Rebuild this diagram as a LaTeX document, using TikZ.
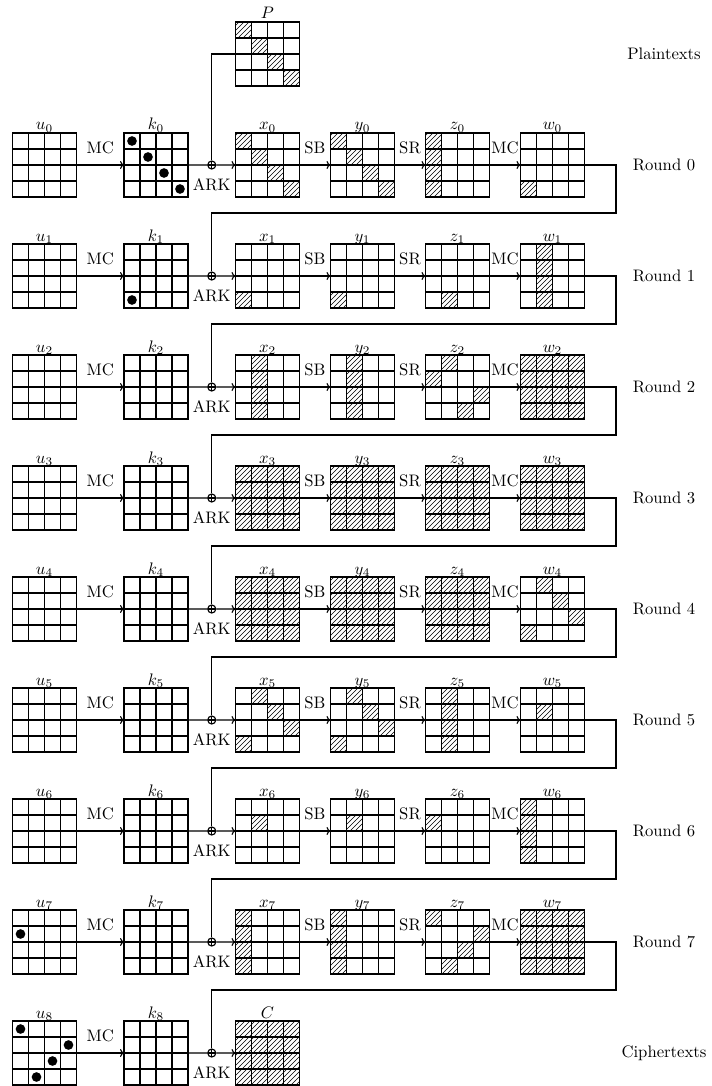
\documentclass[tikz,border=0pt]{standalone}
\usetikzlibrary{patterns,calc,positioning,arrows.meta}

\tikzset{
  >={To[length=2.4pt,width=4.8pt]},
  gridbox/.style={draw, line width=0.7pt, minimum size=38.4pt, inner sep=0pt,
    outer sep=0pt, anchor=north west},
  cellline/.style={line width=0.7pt},
  flow/.style={line width=0.7pt},
  oplabel/.style={above=3pt},
  xorop/.style={draw, circle, line width=0.7pt, minimum size=4.8pt, inner sep=0pt,
    path picture={\draw[line width=0.7pt]
      (path picture bounding box.north) -- (path picture bounding box.south)
      (path picture bounding box.west) -- (path picture bounding box.east);}},
}

% one 4x4 state: name, left x, top y, label
\newcommand{\stategrid}[4]{%
  \node[gridbox] (#1) at (#2,#3) {};
  \foreach \g in {16,32,48} {
    \draw[cellline] ($(#1.north west)+(\g,0)$) -- ++(0,64);
    \draw[cellline] ($(#1.north west)+(0,\g)$) -- ++(64,0);
  }
  \node[anchor=base] (#1lab) at ($(#1.north)+(0,-3)$) {#4};
}
\newcommand{\hatch}[2]{\foreach \r/\c in {#2} {%
  \fill[pattern=north east lines] ($(#1.north west)+(16*\c,16*\r)$) rectangle ++(16,16);}}
\newcommand{\hatchall}[1]{\fill[pattern=north east lines] (#1.north west) rectangle (#1.south east);}
\newcommand{\spots}[2]{\foreach \r/\c in {#2} {%
  \fill ($(#1.north west)+(16*\c+8,16*\r+8)$) circle[radius=2.9pt];}}

\begin{document}
\begin{tikzpicture}[x=0.6pt, y=-0.6pt]
  \useasboundingbox (0,0) rectangle (711,1086);

  % plaintext on top
  \stategrid{P}{235.5}{22}{$P$}
  \node (ptxt) at (664,54) {Plaintexts};

  % key part of every row
  \foreach \i in {0,...,8} {
    \pgfmathsetmacro\rowtop{133+111*\i}
    \pgfmathsetmacro\rowmid{\rowtop+32}
    \stategrid{u\i}{12.5}{\rowtop}{$u_{\i}$}
    \stategrid{k\i}{124}{\rowtop}{$k_{\i}$}
    \node[xorop] (a\i) at (211.75,\rowmid) {};
    \node[below=2pt of a\i] (ark\i) {ARK};
    \draw[flow,->] (u\i.east) -- node[oplabel] {MC} (k\i.west);
    \draw[flow] (k\i.east) -- (a\i.west);
  }

  % the rounds
  \foreach \i in {0,...,7} {
    \pgfmathsetmacro\rowtop{133+111*\i}
    \pgfmathsetmacro\rowmid{\rowtop+32}
    \pgfmathtruncatemacro\j{\i+1}
    \stategrid{x\i}{235.5}{\rowtop}{$x_{\i}$}
    \stategrid{y\i}{330.5}{\rowtop}{$y_{\i}$}
    \stategrid{z\i}{425.5}{\rowtop}{$z_{\i}$}
    \stategrid{w\i}{520.5}{\rowtop}{$w_{\i}$}
    \draw[flow,->] (a\i.east) -- (x\i.west);
    \draw[flow,->] (x\i.east) -- node[oplabel] {SB} (y\i.west);
    \draw[flow,->] (y\i.east) -- node[oplabel] {SR} (z\i.west);
    \draw[flow,->] (z\i.east) -- node[oplabel] {MC} (w\i.west);
    \node (rnd\i) at (664,\rowmid) {Round \i};
    % feed the output into the next round
    \coordinate (ret\i) at (616,\rowmid+48);
    \draw[flow] (w\i.east) -| (ret\i) -| (a\j.north);
  }

  % ciphertext at the bottom
  \stategrid{C}{235.5}{1021}{$C$}
  \draw[flow,->] (a8.east) -- (C.west);
  \node (ctxt) at (664,1053) {Ciphertexts};
  \draw[flow] (P.west) -| (a0.north);

  % active cells
  \hatch{P}{0/0,1/1,2/2,3/3}
  \spots{k0}{0/0,1/1,2/2,3/3}
  \hatch{x0}{0/0,1/1,2/2,3/3}
  \hatch{y0}{0/0,1/1,2/2,3/3}
  \hatch{z0}{0/0,1/0,2/0,3/0}
  \hatch{w0}{3/0}
  % round 1
  \spots{k1}{3/0}
  \hatch{x1}{3/0}
  \hatch{y1}{3/0}
  \hatch{z1}{3/1}
  \hatch{w1}{0/1,1/1,2/1,3/1}
  % round 2
  \hatch{x2}{0/1,1/1,2/1,3/1}
  \hatch{y2}{0/1,1/1,2/1,3/1}
  \hatch{z2}{0/1,1/0,2/3,3/2}
  \hatchall{w2}
  % round 3
  \hatchall{x3} \hatchall{y3} \hatchall{z3} \hatchall{w3}
  % round 4
  \hatchall{x4} \hatchall{y4} \hatchall{z4}
  \hatch{w4}{0/1,1/2,2/3,3/0}
  % round 5
  \hatch{x5}{0/1,1/2,2/3,3/0}
  \hatch{y5}{0/1,1/2,2/3,3/0}
  \hatch{z5}{0/1,1/1,2/1,3/1}
  \hatch{w5}{1/1}
  % round 6
  \hatch{x6}{1/1}
  \hatch{y6}{1/1}
  \hatch{z6}{1/0}
  \hatch{w6}{0/0,1/0,2/0,3/0}
  % round 7
  \spots{u7}{1/0}
  \hatch{x7}{0/0,1/0,2/0,3/0}
  \hatch{y7}{0/0,1/0,2/0,3/0}
  \hatch{z7}{0/0,1/3,2/2,3/1}
  \hatchall{w7}
  % last key addition
  \spots{u8}{0/0,1/3,2/2,3/1}
  \hatchall{C}
\end{tikzpicture}
\end{document}
